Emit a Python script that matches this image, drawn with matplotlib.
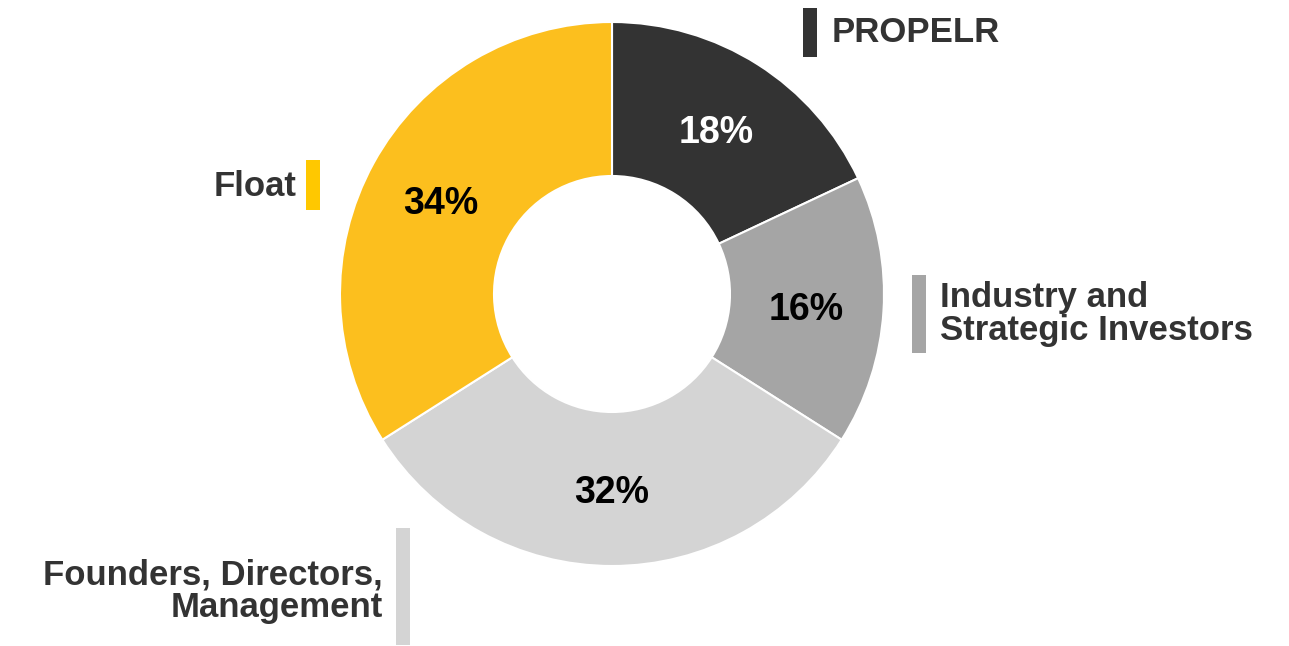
import matplotlib.pyplot as plt
from matplotlib.patches import Rectangle

plt.rcParams['font.family'] = ['Liberation Sans', 'DejaVu Sans']

labels = ['PROPELR', 'Industry and\nStrategic Investors',
          'Founders, Directors,\nManagement', 'Float']
shares = [18, 16, 32, 34]
slice_colors = ['#333333', '#a5a5a5', '#d4d4d4', '#fcbf1e']
bar_colors = ['#333333', '#a5a5a5', '#d4d4d4', '#ffc800']
pct_colors = ['white', 'black', 'black', 'black']

W, H = 1289, 646
fig = plt.figure(figsize=(W / 100, H / 100), dpi=100)
ax = fig.add_axes([0, 0, 1, 1])

wedges, texts, autotexts = ax.pie(
    shares, colors=slice_colors, startangle=90, counterclock=False,
    center=(612, H - 294), radius=272, autopct='%d%%', pctdistance=0.717,
    wedgeprops=dict(width=154, edgecolor='white', linewidth=1.5),
    textprops=dict(fontsize=27, fontweight='bold'))
for t, c in zip(autotexts, pct_colors):
    t.set_color(c)
    x, y = t.get_position()
    t.set_position((x, y - 4))

# category callouts: coloured marker bar plus label
# (bar x, bar top, bar height, text x, text y, alignment), measured from top
callouts = [
    (803, 8, 49, 832, 32, 'left'),
    (912, 275, 78, 940, 314, 'left'),
    (396, 528, 117, 383, 591, 'right'),
    (306, 160, 50, 296, 186, 'right'),
]
for (bx, by, bh, tx, ty, ha), lab, bc in zip(callouts, labels, bar_colors):
    ax.add_patch(Rectangle((bx, H - by - bh), 14, bh, color=bc, lw=0))
    ax.text(tx, H - ty, lab, ha=ha, va='center', fontsize=25,
            fontweight='bold', color='#333333', linespacing=0.97,
            multialignment=ha)

ax.set_xlim(0, W)
ax.set_ylim(0, H)
ax.set_aspect('equal')
ax.axis('off')

fig.savefig('out.png', dpi=100)
